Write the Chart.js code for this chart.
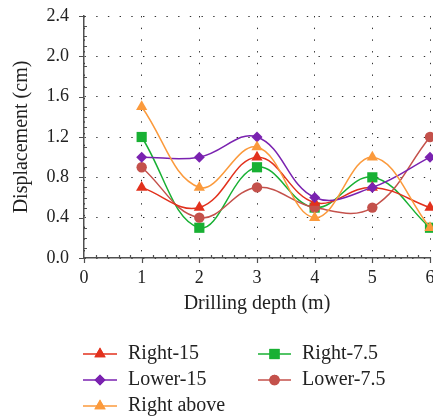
<!DOCTYPE html>
<html>
<head>
<meta charset="utf-8">
<script src="https://cdn.jsdelivr.net/npm/chart.js@4/dist/chart.umd.min.js"></script>
<style>
  html, body { margin: 0; padding: 0; background: #fff; }
  #wrap { width: 433px; height: 417px; }
</style>
</head>
<body>
<div id="wrap"><canvas id="c" width="433" height="417"></canvas></div>
<script>
// Drilling depth (m) of each measurement
const depths = [1, 2, 3, 4, 5, 6];

// Displacement (cm) per monitoring position
const right15    = [0.7, 0.5, 1.0, 0.55, 0.7, 0.5];
const right75    = [1.2, 0.3, 0.9, 0.5, 0.8, 0.3];
const lower15    = [1.0, 1.0, 1.2, 0.6, 0.7, 1.0];
const lower75    = [0.9, 0.4, 0.7, 0.5, 0.5, 1.2];
const rightAbove = [1.5, 0.7, 1.1, 0.4, 1.0, 0.3];

const seriesNames = ['Right-15', 'Right-7.5', 'Lower-15', 'Lower-7.5', 'Right above'];

const xTicks = [0, 1, 2, 3, 4, 5, 6];
const yTicks = [0.0, 0.4, 0.8, 1.2, 1.6, 2.0, 2.4];

const SERIF = "'Liberation Serif', 'DejaVu Serif', serif";
const AXIS_COLOR = '#505050';

const styles = {
  'Right-15':    { color: '#e2311d', point: 'triangle', r: 6.5, order: 3 },
  'Right-7.5':   { color: '#18b033', point: 'rect',     r: 7.2, order: 5 },
  'Lower-15':    { color: '#7a22b0', point: 'rectRot',  r: 5.5, order: 2 },
  'Lower-7.5':   { color: '#c4514b', point: 'circle',   r: 5.2, order: 4 },
  'Right above': { color: '#fb9a3c', point: 'triangle', r: 6.5, order: 1 }
};

const values = {
  'Right-15': right15,
  'Right-7.5': right75,
  'Lower-15': lower15,
  'Lower-7.5': lower75,
  'Right above': rightAbove
};

const datasets = seriesNames.map(name => {
  const s = styles[name];
  return {
    label: name,
    data: depths.map((d, i) => ({ x: d, y: values[name][i] })),
    borderColor: s.color,
    backgroundColor: s.color,
    pointBackgroundColor: s.color,
    pointBorderColor: s.color,
    pointBorderWidth: 0,
    pointStyle: s.point,
    pointRadius: s.r,
    pointHoverRadius: s.r,
    borderWidth: 1.5,
    tension: 0.4,
    fill: false,
    clip: false,
    order: s.order
  };
});

// Minor/major tick marks on the two axes
const axisTicks = {
  id: 'axisTicks',
  afterDatasetsDraw(chart) {
    const ctx = chart.ctx;
    const xs = chart.scales.x, ys = chart.scales.y;
    const left = chart.chartArea.left, bottom = chart.chartArea.bottom;
    ctx.save();
    ctx.strokeStyle = AXIS_COLOR;
    ctx.lineWidth = 1.2;
    ctx.beginPath();
    // y axis: major outward, minor inward every 0.1
    for (let k = 0; k <= 24; k++) {
      const v = k / 10;
      const py = Math.round(ys.getPixelForValue(v)) + 0.5;
      if (k % 4 === 0) {
        ctx.moveTo(left - 5, py); ctx.lineTo(left, py);
      } else {
        ctx.moveTo(left, py); ctx.lineTo(left + 3, py);
      }
    }
    // x axis: major outward, minor inward every 0.2
    for (let k = 0; k <= 30; k++) {
      const v = k / 5;
      const px = Math.round(xs.getPixelForValue(v)) + 0.5;
      if (k % 5 === 0) {
        ctx.moveTo(px, bottom - 1); ctx.lineTo(px, bottom + 5);
      } else {
        ctx.moveTo(px, bottom); ctx.lineTo(px, bottom - 3);
      }
    }
    ctx.stroke();
    ctx.restore();
  }
};

// Two-column legend under the plot, line + marker per entry
const legendBlock = {
  id: 'legendBlock',
  afterDraw(chart) {
    const ctx = chart.ctx;
    const cols = [{ x0: 83, x1: 117, tx: 128 }, { x0: 258, x1: 291, tx: 302 }];
    const rows = [354, 380, 406];
    const layout = [
      ['Right-15', 0, 0], ['Right-7.5', 1, 0],
      ['Lower-15', 0, 1], ['Lower-7.5', 1, 1],
      ['Right above', 0, 2]
    ];
    ctx.save();
    layout.forEach(([name, c, r]) => {
      const s = styles[name];
      const col = cols[c], y = rows[r];
      ctx.strokeStyle = s.color;
      ctx.lineWidth = 1.5;
      ctx.beginPath();
      ctx.moveTo(col.x0, y); ctx.lineTo(col.x1, y);
      ctx.stroke();
      ctx.fillStyle = s.color;
      Chart.helpers.drawPoint(ctx, { pointStyle: s.point, radius: s.r, borderWidth: 0 }, (col.x0 + col.x1) / 2, y);
      ctx.fill();
      ctx.fillStyle = '#222';
      ctx.font = '20px ' + SERIF;
      ctx.textBaseline = 'middle';
      ctx.textAlign = 'left';
      ctx.fillText(name, col.tx, y);
    });
    ctx.restore();
  }
};

new Chart(document.getElementById('c'), {
  type: 'line',
  data: { datasets },
  plugins: [axisTicks, legendBlock],
  options: {
    responsive: false,
    devicePixelRatio: 1,
    animation: false,
    events: [],
    layout: { autoPadding: false, padding: { top: 16, right: 3, left: 0, bottom: 0 } },
    plugins: { legend: { display: false }, tooltip: { enabled: false } },
    scales: {
      x: {
        type: 'linear',
        min: 0, max: 6,
        afterBuildTicks: s => { s.ticks = xTicks.map(v => ({ value: v })); },
        afterFit: s => { s.height = 159; s.paddingLeft = 0; s.paddingRight = 0; },
        ticks: {
          color: '#222',
          font: { family: SERIF, size: 18 },
          padding: 9,
          maxRotation: 0,
          callback: v => String(v)
        },
        grid: { color: '#333', lineWidth: 1, drawTicks: false },
        border: { display: true, color: AXIS_COLOR, width: 1.5, dash: [1.4, 10.3] },
        title: {
          display: true,
          text: 'Drilling depth (m)',
          color: '#222',
          font: { family: SERIF, size: 20 },
          padding: { top: 0, bottom: 101 }
        }
      },
      y: {
        type: 'linear',
        min: 0, max: 2.4,
        afterBuildTicks: s => { s.ticks = yTicks.map(v => ({ value: v })); },
        afterFit: s => { s.width = 84; s.paddingTop = 0; s.paddingBottom = 0; },
        ticks: {
          color: '#222',
          font: { family: SERIF, size: 18 },
          padding: 15,
          callback: v => Number(v).toFixed(1)
        },
        grid: { color: '#333', lineWidth: 1, drawTicks: false },
        border: { display: true, color: AXIS_COLOR, width: 1.5, dash: [1.4, 10.3] },
        title: {
          display: true,
          text: 'Displacement (cm)',
          color: '#222',
          font: { family: SERIF, size: 20 },
          padding: { top: 10, bottom: 0 }
        }
      }
    }
  }
});
</script>
</body>
</html>
